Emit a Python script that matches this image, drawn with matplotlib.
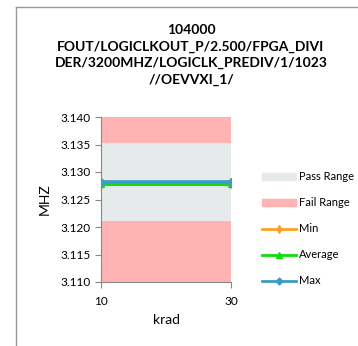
import matplotlib
matplotlib.use('Agg')
import matplotlib.pyplot as plt
from matplotlib.lines import Line2D
from matplotlib.patches import Patch

plt.rcParams['font.family'] = ['Lato', 'DejaVu Sans']

# data
krad = [10, 30]
min_vals = [3.1280, 3.1280]
avg_vals = [3.1279, 3.1279]
max_vals = [3.1281, 3.1281]
pass_lo = 3.1211
pass_hi = 3.1352
y_lo, y_hi = 3.110, 3.140
y_ticks = [3.110, 3.115, 3.120, 3.125, 3.130, 3.135, 3.140]

title = ('104000\nFOUT/LOGICLKOUT_P/2.500/FPGA_DIVI\n'
         'DER/3200MHZ/LOGICLK_PREDIV/1/1023\n//OEVVXI_1/')

fail_c = '#ffb3b3'
pass_c = '#e6eaea'
min_c = '#ffa024'
avg_c = '#10dd10'
max_c = '#3d9bcc'

fig = plt.figure(figsize=(3.58, 3.46), dpi=100)
W, H = 358, 346
ax = fig.add_axes([101 / W, 1 - 282 / H, 130 / W, 165 / H])

# bands
ax.fill_between(krad, [y_lo] * 2, [pass_lo] * 2, color=fail_c, lw=0)
ax.fill_between(krad, [pass_lo] * 2, [pass_hi] * 2, color=pass_c, lw=0)
ax.fill_between(krad, [pass_hi] * 2, [y_hi] * 2, color=fail_c, lw=0)

ax.plot(krad, min_vals, color=min_c, lw=2.2, marker='d', ms=5)
ax.plot(krad, avg_vals, color=avg_c, lw=2.2, marker='^', ms=5)
ax.plot(krad, max_vals, color=max_c, lw=2.6, marker='D', ms=4.5)

ax.set_xlim(10, 30)
ax.set_ylim(y_lo, y_hi)
ax.set_xticks(krad)
ax.set_yticks(y_ticks)
ax.set_yticklabels(['%.3f' % v for v in y_ticks])
for s in ['top', 'right']:
    ax.spines[s].set_visible(False)
for s in ['left', 'bottom']:
    ax.spines[s].set_color('#888888')
    ax.spines[s].set_linewidth(0.8)
ax.tick_params(colors='#888888', labelcolor='black', labelsize=8.5, length=4, width=0.8)
ax.tick_params(axis='x', pad=6)
ax.set_xlabel('krad', fontsize=10, labelpad=5)
ax.set_ylabel('MHZ', fontsize=10, labelpad=7)

fig.text(191 / W, 1 - 24 / H, title, ha='center', va='top', fontsize=10,
         fontweight='bold', linespacing=1.45)

handles = [Patch(color=pass_c), Patch(color=fail_c),
           Line2D([], [], color=min_c, lw=2, marker='d', ms=4),
           Line2D([], [], color=avg_c, lw=2, marker='^', ms=4),
           Line2D([], [], color=max_c, lw=2, marker='D', ms=3.5)]
labels = ['Pass Range', 'Fail Range', 'Min', 'Average', 'Max']
fig.legend(handles, labels, loc='upper left', bbox_to_anchor=(258 / W, 1 - 167 / H),
           frameon=False, fontsize=8, handlelength=3, handletextpad=0.3,
           labelspacing=1.35, borderaxespad=0)

# outer chart frame (left and top edges visible)
fig.add_artist(Line2D([15.5 / W, 15.5 / W], [0, 1 - 7 / H], color='#999999', lw=1))
fig.add_artist(Line2D([15.5 / W, 1], [1 - 7 / H, 1 - 7 / H], color='#999999', lw=1))

fig.savefig('out.png', dpi=100)
